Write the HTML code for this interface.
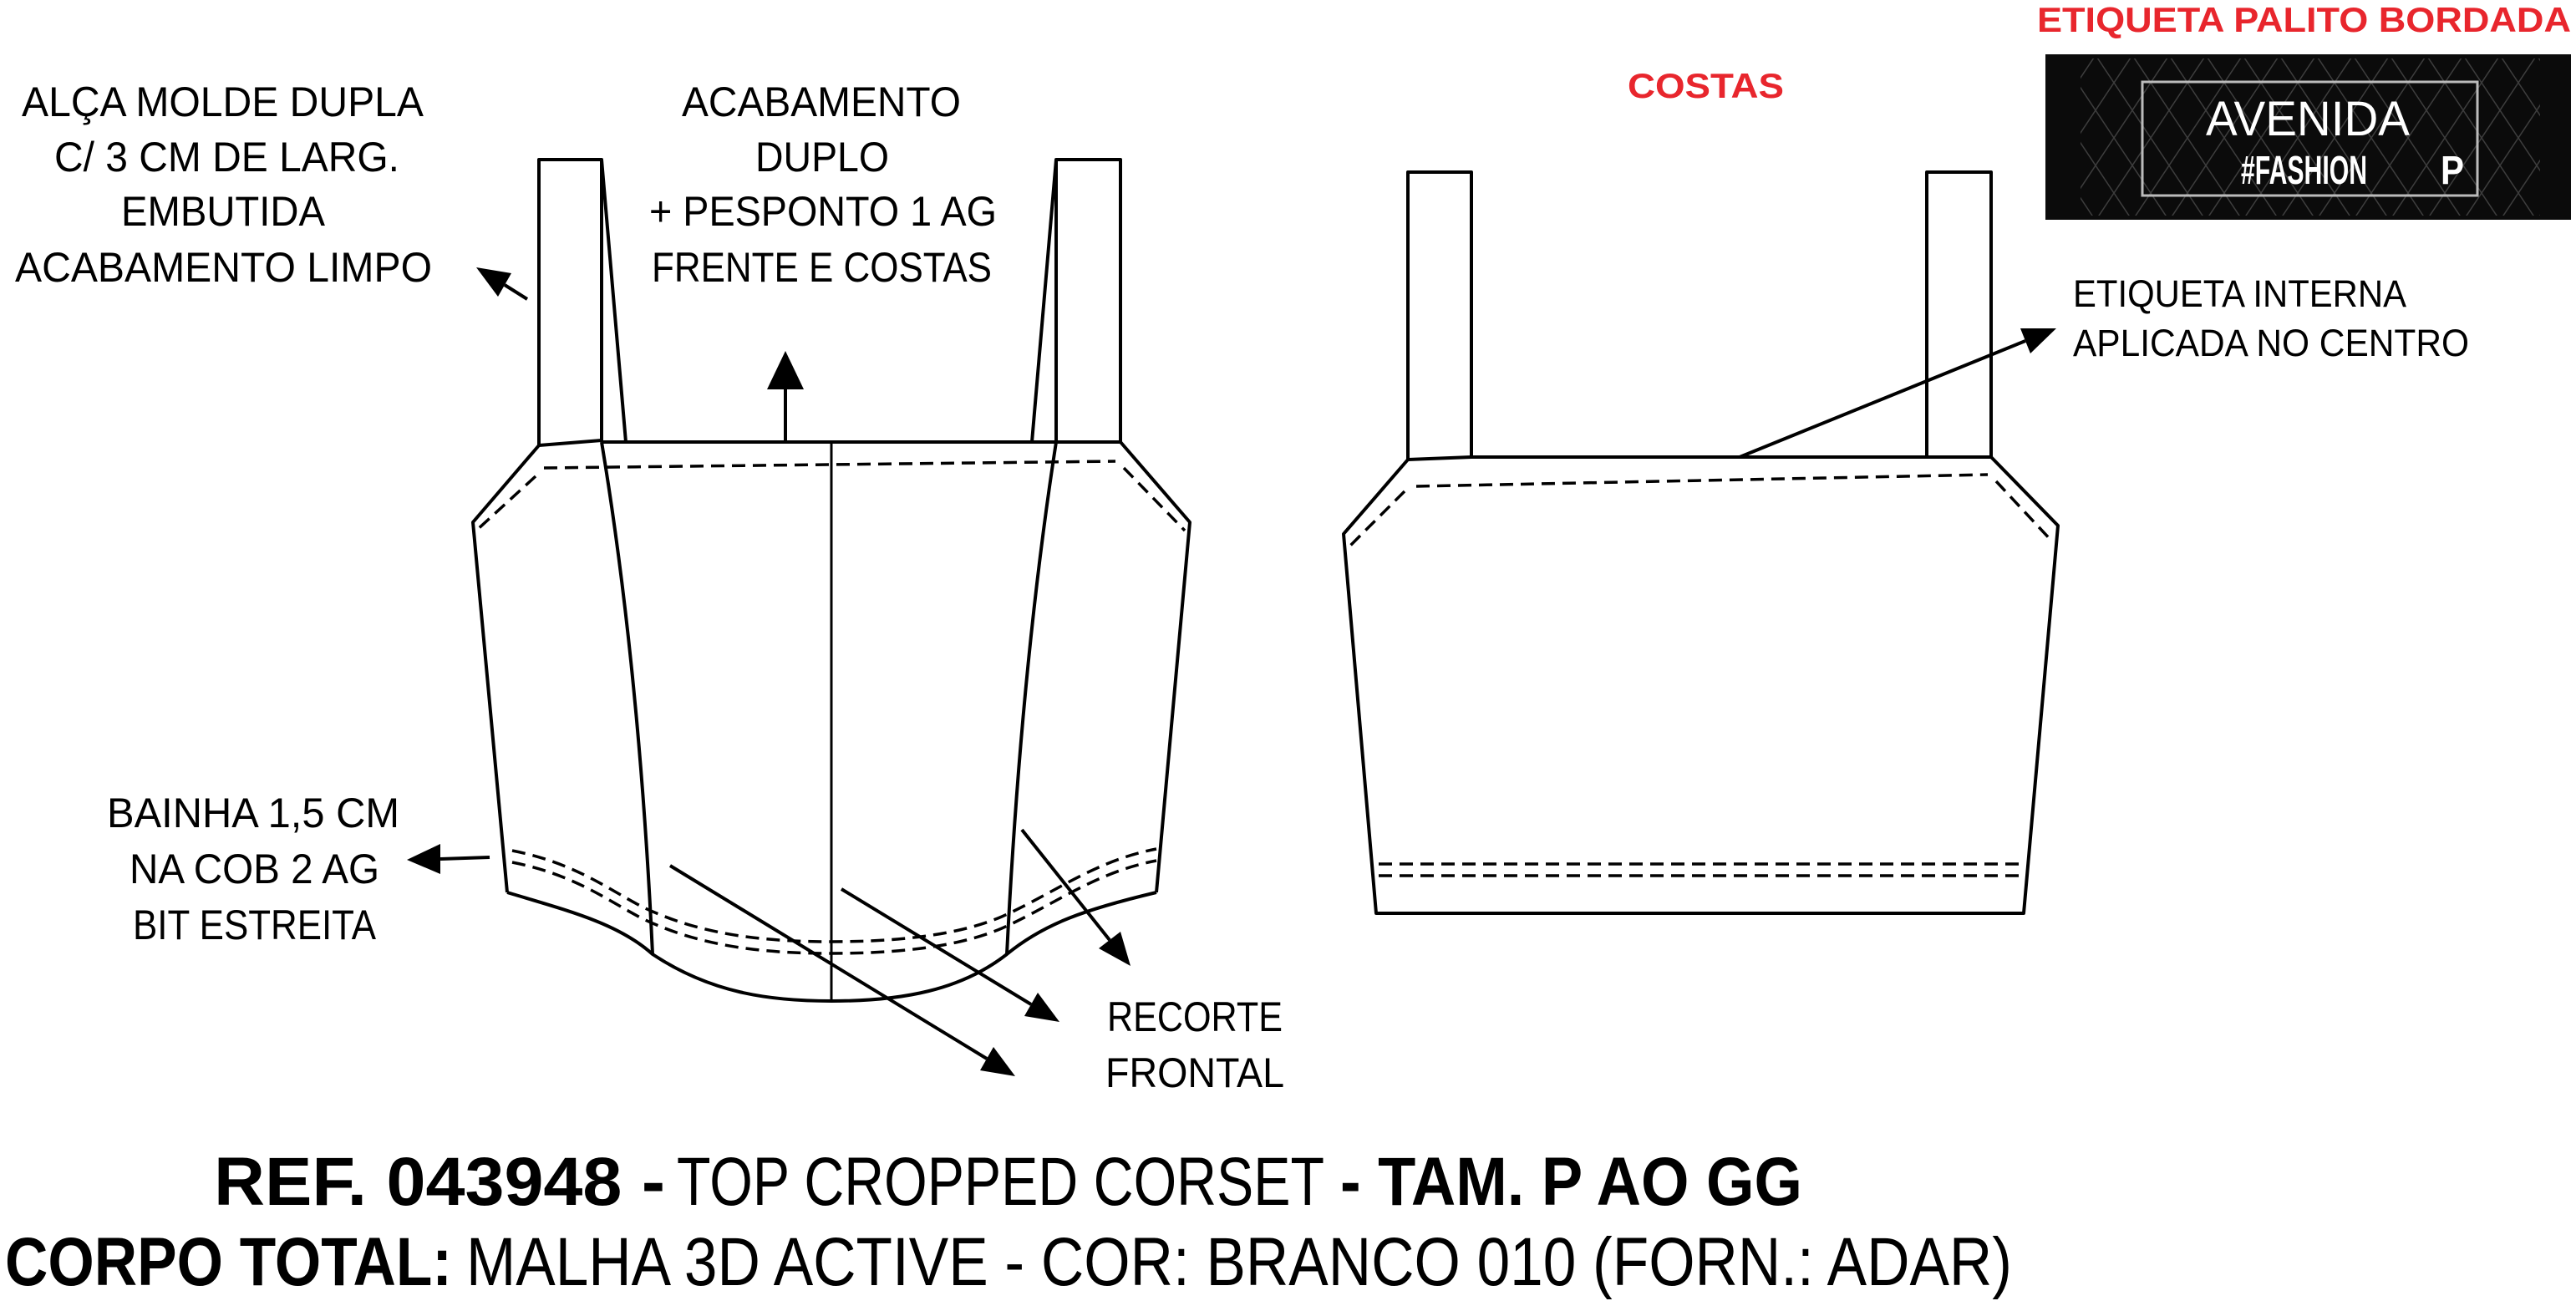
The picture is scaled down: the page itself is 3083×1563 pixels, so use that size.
<!DOCTYPE html>
<html><head><meta charset="utf-8"><style>
html,body{margin:0;padding:0;background:#fff;}
svg{display:block;}
text{font-family:"Liberation Sans",sans-serif;}
</style></head><body>
<svg width="3083" height="1563" viewBox="0 0 3083 1563" xmlns="http://www.w3.org/2000/svg">
<defs>
<pattern id="pt" width="44" height="66" patternUnits="userSpaceOnUse">
<path d="M0,0 L22,33 L44,0 M0,66 L22,33 L44,66" stroke="#4a4a4a" stroke-width="1.5" fill="none"/>
</pattern>
</defs>
<g fill="none" stroke="#000" stroke-width="4" stroke-linejoin="round">
<path d="M645,533 L645,191 L720,191 L720,529 M1264,529 L1264,191 L1341,191 L1341,529"/>
<line x1="720" y1="191" x2="749" y2="529"/>
<line x1="1264" y1="191" x2="1235" y2="529"/>
<path d="M645,533 L720,527 M720,529 L1341,529"/>
<path d="M645,533 L566,625 L607,1068"/>
<path d="M1341,529 L1424,625 L1384,1068"/>
<path d="M607,1068 C680,1090 740,1105 781,1142 C850,1188 920,1198 995,1198 C1080,1198 1150,1185 1205,1142 C1250,1105 1300,1088 1384,1068"/>
<path d="M720,529 Q765,800 781,1142"/>
<path d="M1264,529 Q1222,800 1205,1142"/>
<line x1="995" y1="529" x2="995" y2="1198" stroke-width="3"/>
<g stroke-dasharray="16,9" stroke-width="3.5">
<path d="M651,560 L1335,552"/>
<path d="M641,570 L570,635"/>
<path d="M1345,560 L1418,635"/>
<path d="M613,1018 C700,1035 740,1075 786,1093 C850,1120 920,1127 995,1127 C1080,1127 1150,1118 1199,1097 C1260,1070 1310,1030 1384,1016"/>
<path d="M613,1032 C700,1049 740,1089 786,1107 C850,1134 920,1141 995,1141 C1080,1141 1150,1132 1199,1111 C1260,1084 1310,1044 1384,1030"/>
</g>
<line x1="940" y1="529" x2="940" y2="466"/>
<line x1="631" y1="358" x2="604" y2="341"/>
<line x1="586" y1="1026" x2="527" y2="1028"/>
<line x1="802" y1="1036" x2="1181" y2="1267"/>
<line x1="1007" y1="1064" x2="1234" y2="1202"/>
<line x1="1223" y1="993" x2="1328" y2="1125"/>
<path d="M1685,550 L1685,206 L1761,206 L1761,547 M2306,547 L2306,206 L2383,206 L2383,547"/>
<path d="M1685,550 L1761,547 L2383,547"/>
<path d="M1685,550 L1608,639 L1647,1093 L2422,1093 L2463,629 L2383,547"/>
<g stroke-dasharray="16,9" stroke-width="3.5">
<path d="M1695,582 L2379,568"/>
<path d="M1681,588 L1612,657"/>
<path d="M2389,576 L2457,649"/>
<path d="M1650,1034 L2420,1034"/>
<path d="M1650,1048 L2420,1048"/>
</g>
<line x1="2082" y1="547" x2="2424" y2="408"/>
</g>
<g fill="#000">
<polygon points="940,420 918,466 962,466"/>
<polygon points="570,320 612,327 596,355"/>
<polygon points="487,1029 527,1010 527,1046"/>
<polygon points="1215,1288 1173,1281 1189,1253"/>
<polygon points="1268,1223 1226,1216 1242,1188"/>
<polygon points="1353,1156 1315,1135 1341,1115"/>
<polygon points="2461,393 2430,423 2418,393"/>
</g>
<rect x="2448" y="65" width="629" height="198" fill="#0b0b0b"/>
<rect x="2490" y="70" width="550" height="188" fill="url(#pt)" opacity="0.8"/>
<rect x="2564" y="98" width="401" height="136" fill="none" stroke="#bbb" stroke-width="3"/>
<text x="2640" y="162" font-size="58" fill="#fff" textLength="244" lengthAdjust="spacingAndGlyphs">AVENIDA</text>
<text x="2682" y="220" font-size="48" font-weight="bold" fill="#fff" textLength="151" lengthAdjust="spacingAndGlyphs">#FASHION</text>
<text x="2921" y="220" font-size="48" font-weight="bold" fill="#fff" textLength="28" lengthAdjust="spacingAndGlyphs">P</text>
<g fill="#e8262d" font-weight="bold">
<text x="2438" y="38" font-size="42" textLength="639" lengthAdjust="spacingAndGlyphs">ETIQUETA PALITO BORDADA</text>
<text x="1948" y="117" font-size="42" textLength="187" lengthAdjust="spacingAndGlyphs">COSTAS</text>
</g>
<g fill="#000" font-size="50">
<text x="26" y="139" textLength="481" lengthAdjust="spacingAndGlyphs">ALÇA MOLDE DUPLA</text>
<text x="65" y="205" textLength="413" lengthAdjust="spacingAndGlyphs">C/ 3 CM DE LARG.</text>
<text x="145" y="270" textLength="244" lengthAdjust="spacingAndGlyphs">EMBUTIDA</text>
<text x="18" y="337" textLength="499" lengthAdjust="spacingAndGlyphs">ACABAMENTO LIMPO</text>
<text x="816" y="139" textLength="334" lengthAdjust="spacingAndGlyphs">ACABAMENTO</text>
<text x="904" y="205" textLength="160" lengthAdjust="spacingAndGlyphs">DUPLO</text>
<text x="777" y="270" textLength="416" lengthAdjust="spacingAndGlyphs">+ PESPONTO 1 AG</text>
<text x="780" y="337" textLength="407" lengthAdjust="spacingAndGlyphs">FRENTE E COSTAS</text>
<text x="128" y="990" textLength="350" lengthAdjust="spacingAndGlyphs">BAINHA 1,5 CM</text>
<text x="155" y="1057" textLength="299" lengthAdjust="spacingAndGlyphs">NA COB 2 AG</text>
<text x="159" y="1124" textLength="291" lengthAdjust="spacingAndGlyphs">BIT ESTREITA</text>
<text x="1325" y="1234" textLength="210" lengthAdjust="spacingAndGlyphs">RECORTE</text>
<text x="1323" y="1301" textLength="214" lengthAdjust="spacingAndGlyphs">FRONTAL</text>
<text x="2481" y="367" font-size="45" textLength="399" lengthAdjust="spacingAndGlyphs">ETIQUETA INTERNA</text>
<text x="2481" y="426" font-size="45" textLength="474" lengthAdjust="spacingAndGlyphs">APLICADA NO CENTRO</text>
</g>
<g fill="#000" font-size="82">
<text x="256" y="1442" font-weight="bold" textLength="540" lengthAdjust="spacingAndGlyphs">REF. 043948 -</text>
<text x="810" y="1442" textLength="775" lengthAdjust="spacingAndGlyphs">TOP CROPPED CORSET</text>
<text x="1604" y="1442" font-weight="bold" textLength="553" lengthAdjust="spacingAndGlyphs">- TAM. P AO GG</text>
<text x="6" y="1538" font-weight="bold" textLength="535" lengthAdjust="spacingAndGlyphs">CORPO TOTAL:</text>
<text x="558" y="1538" textLength="1850" lengthAdjust="spacingAndGlyphs">MALHA 3D ACTIVE - COR: BRANCO 010 (FORN.: ADAR)</text>
</g>
</svg>
</body></html>
